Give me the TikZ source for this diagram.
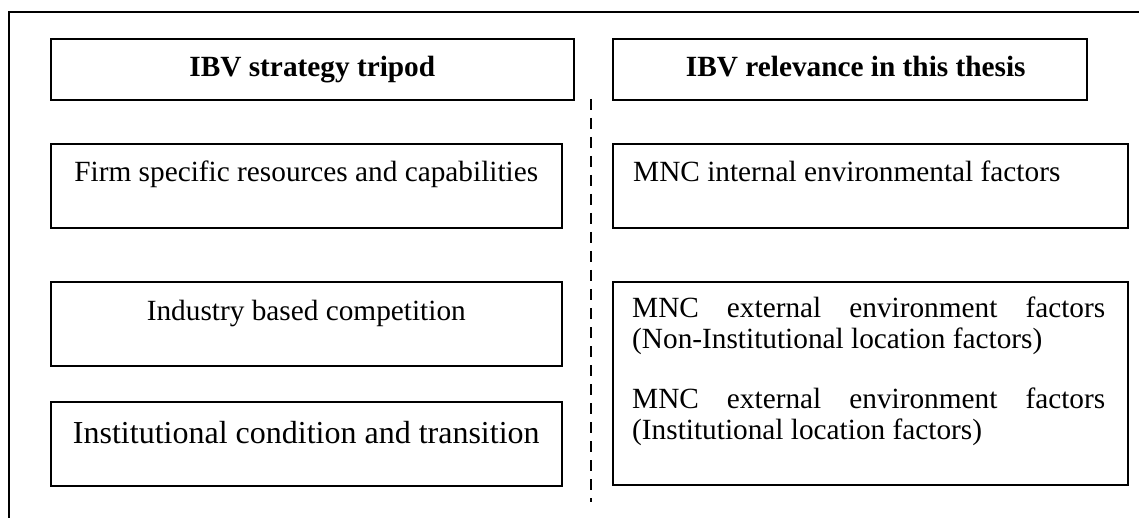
\documentclass[tikz,border=0pt]{standalone}
\usepackage{fontspec}
\setmainfont{Liberation Serif}
\begin{document}
\begin{tikzpicture}[x=1pt,y=-1pt,
  box/.style={draw,line width=1.6pt,rectangle,inner sep=0pt,anchor=north west},
  txt/.style={inner sep=0pt,anchor=base,font=\fontsize{29.3}{31}\selectfont},
  head/.style={inner sep=0pt,anchor=base,font=\fontsize{29.3}{31}\selectfont\bfseries},
  divider/.style={line width=2.6pt,dash pattern=on 11pt off 8pt}]
\useasboundingbox (0,0) rectangle (1139,518);
\clip (0,0) rectangle (1139,518);
% outer frame (runs past the page on the right and bottom)
\draw[line width=1.4pt] (9,12) rectangle (1160,540);

% column headings
\node[box,minimum width=523pt,minimum height=61pt] (hl) at (50,38) {};
\node[box,minimum width=474pt,minimum height=61pt] (hr) at (612,38) {};
\node[head] (hlt) at (hl.center |- 0,77) {IBV strategy tripod};
\node[head] (hrt) at ([xshift=6pt]hr.center |- 0,77) {IBV relevance in this thesis};

% left column: the strategy tripod
\node[box,minimum width=511pt,minimum height=84pt] (firm) at (50,143) {};
\node[box,minimum width=511pt,minimum height=84pt] (ind) at (50,281) {};
\node[box,minimum width=511pt,minimum height=84pt] (inst) at (50,401) {};
\node[txt] (firmt) at (firm.north |- 0,182) {Firm specific resources and capabilities};
\node[txt] (indt) at (ind.north |- 0,320) {Industry based competition};
\node[txt,font=\fontsize{32}{34}\selectfont] (instt) at (inst.north |- 0,443) {Institutional condition and transition};

% right column: relevance in the thesis
\node[box,minimum width=515pt,minimum height=84pt] (intl) at (612,143) {};
\node[box,minimum width=515pt,minimum height=203pt] (extl) at (612,281) {};
\node[txt,anchor=base west] (intlt) at (633,182) {MNC internal environmental factors};
\node[txt,anchor=base west,text width=473pt,align=justify] (extlt) at (632,317)
  {MNC\hfill external\hfill environment\hfill factors\\
   (Non-Institutional location factors)\\[29pt]
   MNC\hfill external\hfill environment\hfill factors\\
   (Institutional location factors)};

% dashed divider between the columns
\coordinate (dtop) at (591,99);
\coordinate (dbot) at (591,502);
\draw[divider] (dtop) -- (dbot);
\end{tikzpicture}
\end{document}
